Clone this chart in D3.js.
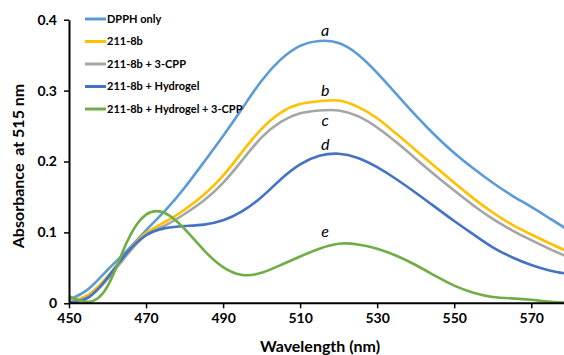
<!DOCTYPE html>
<html>
<head>
<meta charset="utf-8">
<script src="https://cdn.jsdelivr.net/npm/d3@7"></script>
<style>
  body { margin: 0; background: #fff; }
  svg { display: block; font-family: Lato, "Open Sans", sans-serif; }
</style>
</head>
<body>
<svg id="chart" width="564" height="355"></svg>
<script>
const wavelengths = [450, 455, 460, 465, 470, 475, 480, 485, 490, 495, 500, 505, 510, 515, 520, 525, 530, 535, 540, 545, 550, 555, 560, 565, 570, 575, 580]

const dpphOnly  = [0.005, 0.020, 0.047, 0.074, 0.103, 0.131, 0.163, 0.199, 0.236, 0.275, 0.314, 0.344, 0.363, 0.370, 0.367, 0.351, 0.325, 0.295, 0.265, 0.237, 0.212, 0.190, 0.170, 0.152, 0.136, 0.119, 0.102]
const s211      = [0.003, 0.012, 0.038, 0.071, 0.099, 0.115, 0.132, 0.153, 0.180, 0.214, 0.246, 0.269, 0.281, 0.285, 0.286, 0.277, 0.261, 0.239, 0.216, 0.193, 0.170, 0.148, 0.128, 0.111, 0.097, 0.084, 0.072]
const s211Cpp   = [0.002, 0.009, 0.034, 0.068, 0.096, 0.110, 0.126, 0.145, 0.170, 0.202, 0.234, 0.256, 0.268, 0.272, 0.272, 0.264, 0.248, 0.227, 0.204, 0.181, 0.159, 0.138, 0.119, 0.103, 0.089, 0.076, 0.064]
const s211Gel   = [0.001, 0.008, 0.036, 0.071, 0.096, 0.106, 0.109, 0.111, 0.117, 0.130, 0.150, 0.175, 0.196, 0.208, 0.211, 0.205, 0.192, 0.175, 0.156, 0.136, 0.116, 0.097, 0.079, 0.065, 0.054, 0.046, 0.041]
const s211GelCpp= [0.010, 0.002, 0.024, 0.086, 0.125, 0.127, 0.105, 0.075, 0.051, 0.040, 0.043, 0.054, 0.066, 0.077, 0.084, 0.083, 0.077, 0.067, 0.054, 0.039, 0.025, 0.015, 0.009, 0.007, 0.005, 0.002, 0.001]

const seriesNames = ["DPPH only", "211-8b", "211-8b + 3-CPP", "211-8b + Hydrogel", "211-8b + Hydrogel + 3-CPP"]
const seriesValues = [dpphOnly, s211, s211Cpp, s211Gel, s211GelCpp]
const seriesColors = ["#5B9BD5", "#FFC000", "#A5A5A5", "#4472C4", "#70AD47"]
const curveLetters = ["a", "b", "c", "d", "e"]

const xTicks = [450, 470, 490, 510, 530, 550, 570]
const yTicks = [0, 0.1, 0.2, 0.3, 0.4]

const svg = d3.select("#chart")

const x = d3.scaleLinear().domain([450, 578.5]).range([69, 564])
const y = d3.scaleLinear().domain([0, 0.4]).range([303.3, 19.7])

// curves
const line = d3.line()
  .x(d => x(d[0]))
  .y(d => y(d[1]))
  .curve(d3.curveNatural)

const gLines = svg.append("g").attr("fill", "none")

seriesValues.forEach((vals, i) => {
  gLines.append("path")
    .datum(wavelengths.map((w, j) => [w, vals[j]]))
    .attr("stroke", seriesColors[i])
    .attr("stroke-width", 2.6)
    .attr("stroke-linejoin", "round")
    .attr("d", line)
})

// axes
const xAxis = svg.append("g")
  .attr("transform", `translate(0,${y(0)})`)
  .call(d3.axisBottom(x).tickValues(xTicks).tickSize(5).tickSizeOuter(0).tickPadding(5))

const yAxis = svg.append("g")
  .attr("transform", `translate(${x(450)},0)`)
  .call(d3.axisLeft(y).tickValues(yTicks).tickSize(5).tickSizeOuter(0).tickPadding(7)
    .tickFormat(d => d === 0 ? "0" : d3.format(".1f")(d)))

for (const ax of [xAxis, yAxis]) {
  ax.select(".domain").attr("stroke", "#000").attr("stroke-width", 2)
  ax.selectAll(".tick line").attr("stroke", "#000").attr("stroke-width", 1.5)
  ax.selectAll(".tick text")
    .attr("fill", "#000")
    .attr("font-size", 14)
    .attr("font-weight", "bold")
    .attr("font-family", "Lato, sans-serif")
}
xAxis.select(".domain").attr("d", `M${x(450)},0H564`)

// axis titles
svg.append("text")
  .attr("x", 320)
  .attr("y", 352)
  .attr("text-anchor", "middle")
  .attr("font-size", 16)
  .attr("font-weight", "bold")
  .text("Wavelength (nm)")

svg.append("text")
  .attr("transform", "translate(24,166) rotate(-90)")
  .attr("text-anchor", "middle")
  .attr("font-size", 16)
  .attr("font-weight", "bold")
  .attr("xml:space", "preserve")
  .text("Absorbance  at 515 nm")

// curve letters
const letterY = [0.385, 0.300, 0.258, 0.224, 0.101]
curveLetters.forEach((t, i) => {
  svg.append("text")
    .attr("x", x(516.5))
    .attr("y", y(letterY[i]))
    .attr("dy", "0.35em")
    .attr("text-anchor", "middle")
    .attr("font-size", 16)
    .attr("font-style", "italic")
    .text(t)
})

// legend
const legend = svg.append("g").attr("transform", "translate(85,19)")
seriesNames.forEach((name, i) => {
  const row = legend.append("g").attr("transform", `translate(0,${i * 22.5})`)
  row.append("line")
    .attr("x1", 0).attr("x2", 21)
    .attr("stroke", seriesColors[i])
    .attr("stroke-width", 3)
  row.append("text")
    .attr("x", 22)
    .attr("dy", "0.35em")
    .attr("font-size", 11)
    .attr("font-weight", "bold")
    .text(name)
})
</script>
</body>
</html>
